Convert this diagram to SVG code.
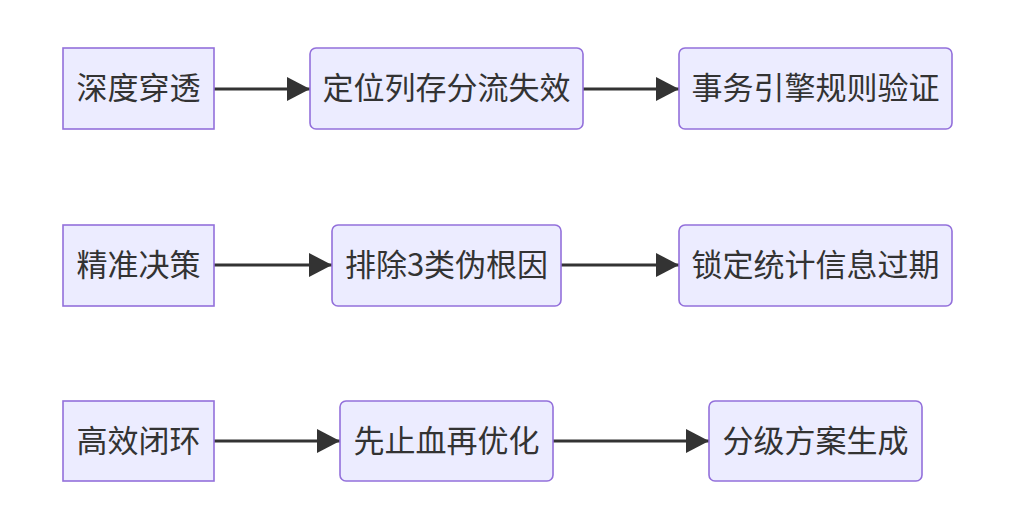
<svg xmlns="http://www.w3.org/2000/svg" width="1021" height="519" viewBox="0 0 1021 519">
<style>
.n{fill:#ECECFF;stroke:#9370DB;stroke-width:1.6}
.t{font-family:"Noto Sans CJK SC","Liberation Sans",sans-serif;font-size:31px;fill:#333;text-anchor:middle;dominant-baseline:central}
.e{stroke:#333;stroke-width:3;fill:none}
</style>
<defs>
<marker id="ah" markerUnits="userSpaceOnUse" markerWidth="24" markerHeight="26" refX="23" refY="12" orient="auto">
<path d="M0,0 L23,12 L0,24 Z" fill="#333"/>
</marker>
</defs>
<rect width="1021" height="519" fill="#fff"/>
<g id="connectors">
<line class="e" x1="214" y1="89" x2="310" y2="89" marker-end="url(#ah)"/>
<line class="e" x1="583" y1="89" x2="679" y2="89" marker-end="url(#ah)"/>
<line class="e" x1="214" y1="265" x2="332" y2="265" marker-end="url(#ah)"/>
<line class="e" x1="561" y1="265" x2="679" y2="265" marker-end="url(#ah)"/>
<line class="e" x1="214" y1="441" x2="340" y2="441" marker-end="url(#ah)"/>
<line class="e" x1="553" y1="441" x2="709" y2="441" marker-end="url(#ah)"/>
</g>
<g id="n1"><rect class="n" x="63" y="48" width="151" height="81"/><text class="t" x="138.5" y="85">深度穿透</text></g>
<g id="n2"><rect class="n" x="310" y="48" width="273" height="81" rx="6"/><text class="t" x="446.5" y="85">定位列存分流失效</text></g>
<g id="n3"><rect class="n" x="679" y="48" width="273" height="81" rx="6"/><text class="t" x="815.5" y="85">事务引擎规则验证</text></g>
<g id="n4"><rect class="n" x="63" y="225" width="151" height="81"/><text class="t" x="138.5" y="262">精准决策</text></g>
<g id="n5"><rect class="n" x="332" y="225" width="229" height="81" rx="6"/><text class="t" x="446.5" y="262">排除3类伪根因</text></g>
<g id="n6"><rect class="n" x="679" y="225" width="273" height="81" rx="6"/><text class="t" x="815.5" y="262">锁定统计信息过期</text></g>
<g id="n7"><rect class="n" x="63" y="401" width="151" height="80"/><text class="t" x="138.5" y="438">高效闭环</text></g>
<g id="n8"><rect class="n" x="340" y="401" width="213" height="80" rx="6"/><text class="t" x="446.5" y="438">先止血再优化</text></g>
<g id="n9"><rect class="n" x="709" y="401" width="213" height="80" rx="6"/><text class="t" x="815.5" y="438">分级方案生成</text></g>
</svg>
